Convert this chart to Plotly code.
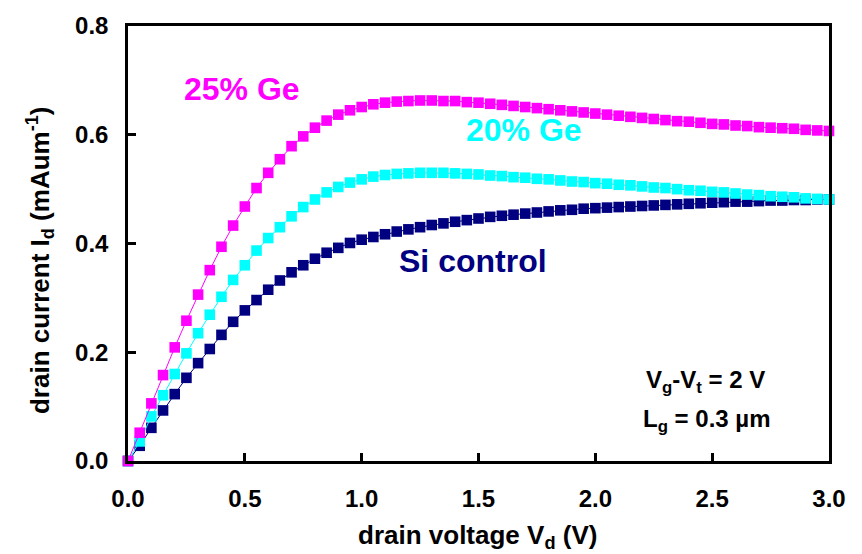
import plotly.graph_objects as go

# Drain voltage sweep (V), 0.05 V steps
vd = [round(0.05 * i, 2) for i in range(61)]

# Drain current (mA/um) for each channel composition
id_ge25 = [0.000, 0.052, 0.106, 0.158, 0.209, 0.258, 0.306, 0.351, 0.394, 0.433,
           0.468, 0.502, 0.530, 0.555, 0.579, 0.597, 0.613, 0.626, 0.637, 0.645,
           0.651, 0.656, 0.659, 0.661, 0.662, 0.663, 0.663, 0.662, 0.662, 0.660,
           0.659, 0.657, 0.655, 0.653, 0.651, 0.649, 0.647, 0.645, 0.643, 0.641,
           0.639, 0.637, 0.635, 0.633, 0.631, 0.629, 0.627, 0.625, 0.624, 0.622,
           0.620, 0.619, 0.617, 0.616, 0.614, 0.613, 0.612, 0.611, 0.609, 0.608,
           0.607]
id_ge20 = [0.000, 0.036, 0.082, 0.121, 0.160, 0.198, 0.235, 0.269, 0.302, 0.333,
           0.360, 0.387, 0.410, 0.430, 0.450, 0.467, 0.481, 0.494, 0.504, 0.512,
           0.518, 0.523, 0.526, 0.528, 0.529, 0.530, 0.530, 0.530, 0.529, 0.528,
           0.527, 0.525, 0.524, 0.522, 0.521, 0.519, 0.518, 0.516, 0.514, 0.513,
           0.511, 0.510, 0.508, 0.507, 0.505, 0.503, 0.502, 0.500, 0.498, 0.497,
           0.495, 0.494, 0.492, 0.490, 0.489, 0.487, 0.486, 0.485, 0.483, 0.482,
           0.481]
id_si = [0.000, 0.028, 0.061, 0.093, 0.123, 0.153, 0.180, 0.206, 0.232, 0.256,
         0.277, 0.296, 0.315, 0.332, 0.347, 0.360, 0.372, 0.383, 0.392, 0.401,
         0.407, 0.412, 0.417, 0.422, 0.426, 0.430, 0.434, 0.437, 0.440, 0.443,
         0.446, 0.449, 0.451, 0.453, 0.455, 0.457, 0.459, 0.461, 0.462, 0.464,
         0.465, 0.466, 0.467, 0.468, 0.469, 0.470, 0.471, 0.472, 0.473, 0.474,
         0.475, 0.476, 0.477, 0.477, 0.478, 0.479, 0.479, 0.480, 0.480, 0.481,
         0.481]

x_ticks = [0.0, 0.5, 1.0, 1.5, 2.0, 2.5, 3.0]
y_ticks = [0.0, 0.2, 0.4, 0.6, 0.8]

FONT = "Liberation Sans, Arial, sans-serif"
NAVY, CYAN, MAGENTA = "#000080", "#00FFFF", "#FF00FF"

fig = go.Figure()
for name, ys, color in [("Si control", id_si, NAVY),
                        ("20% Ge", id_ge20, CYAN),
                        ("25% Ge", id_ge25, MAGENTA)]:
    fig.add_trace(go.Scatter(
        x=vd, y=ys, name=name, mode="lines+markers",
        line=dict(color=color, width=1),
        marker=dict(symbol="square", size=10.6, color=color,
                    line=dict(width=0)),
        cliponaxis=False, showlegend=False,
    ))

axis_common = dict(
    showgrid=False, zeroline=False, showline=True, linecolor="black",
    linewidth=2.5, mirror=True, ticks="inside", tickcolor="black",
    tickwidth=2.5, ticklen=8,
    tickfont=dict(family=FONT, size=24, color="black", weight="bold"),
)

fig.update_xaxes(
    range=[0, 3.0], tickvals=x_ticks, ticktext=[f"{v:.1f}" for v in x_ticks],
    ticklabelstandoff=14, **axis_common,
)
fig.update_yaxes(
    range=[0, 0.8], tickvals=y_ticks, ticktext=[f"{v:.1f}" for v in y_ticks],
    ticklabelstandoff=12, **axis_common,
)

title_font = dict(family=FONT, size=26, color="black", weight="bold")

# Axis titles, placed as paper-anchored labels
fig.add_annotation(
    x=0.4986, y=-0.1726, xref="paper", yref="paper",
    xanchor="center", yanchor="middle",
    text="drain voltage V<sub>d</sub> (V)", showarrow=False, font=title_font,
)
fig.add_annotation(
    x=-0.1255, y=0.462, xref="paper", yref="paper", textangle=-90,
    xanchor="center", yanchor="middle",
    text="drain current I<sub>d</sub> (mAum<sup>-1</sup>)", showarrow=False,
    font=title_font,
)

def label(text, x, y, color, size):
    fig.add_annotation(x=x, y=y, xref="x", yref="y", text=text, showarrow=False,
                       font=dict(family=FONT, size=size, color=color, weight="bold"))

label("25% Ge", 0.488, 0.684, MAGENTA, 32)
label("20% Ge", 1.695, 0.609, CYAN, 32)
label("Si control", 1.476, 0.367, NAVY, 32)
label("V<sub>g</sub>-V<sub>t</sub> = 2 V", 2.473, 0.147, "black", 24)
label("L<sub>g</sub> = 0.3 \u00b5m", 2.48, 0.075, "black", 24)

fig.update_layout(
    width=862, height=554,
    margin=dict(l=128, r=33, t=15, b=93),
    plot_bgcolor="white", paper_bgcolor="white",
    font=dict(family=FONT, color="black"),
)

fig.write_html("out.html")
